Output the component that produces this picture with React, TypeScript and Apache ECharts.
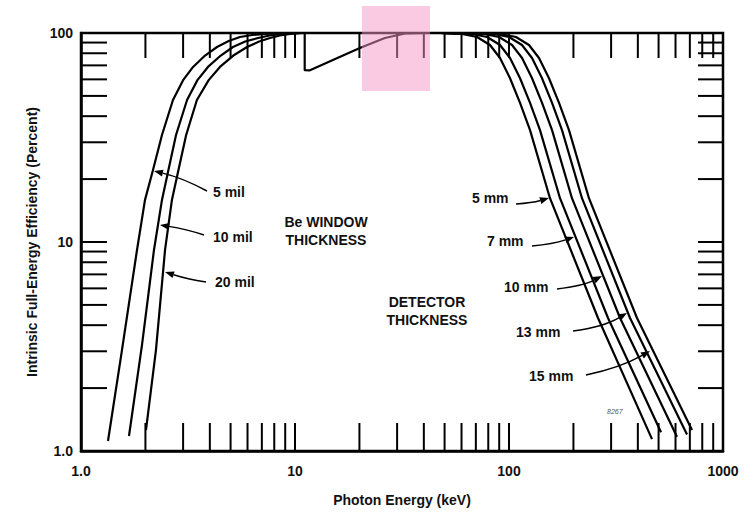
import React, { useEffect, useRef } from 'react';
import * as echarts from 'echarts';

// ---- Data ----
const xTickValues = [2, 3, 4, 5, 6, 7, 8, 9, 10, 20, 30, 40, 50, 60, 70, 80, 90, 100, 200, 300, 400, 500, 600, 700, 800, 900];
const yTickValues = [2, 3, 4, 5, 6, 7, 8, 9, 10, 20, 30, 40, 50, 60, 70, 80, 90];

// Be window thickness curves (low-energy side)
const be5mil = [[1.337, 1.116], [1.554, 3.04], [1.827, 9.16], [1.991, 15.9], [2.17, 22.1], [2.39, 32.5], [2.69, 47.8], [3.0, 59.5], [3.34, 68.8], [3.8, 78.0], [4.32, 85.7], [4.9, 91.5], [5.53, 95.7], [6.3, 97.8], [7.24, 98.9], [9.48, 100], [11.1, 100]];
const be10mil = [[1.676, 1.18], [1.928, 3.22], [2.193, 9.16], [2.39, 15.9], [2.55, 21.6], [2.78, 32.5], [3.13, 47.8], [3.5, 59.5], [3.92, 68.8], [4.5, 78.0], [5.13, 85.7], [5.85, 91.0], [6.72, 94.6], [7.6, 97.3], [8.51, 98.9], [10.55, 100], [11.1, 100]];
const be20mil = [[2.012, 1.26], [2.24, 3.04], [2.47, 9.16], [2.66, 15.9], [2.84, 21.6], [3.1, 32.5], [3.48, 47.8], [3.95, 59.5], [4.46, 68.8], [5.15, 78.0], [5.97, 85.7], [6.8, 91.0], [7.64, 94.6], [8.5, 97.3], [9.48, 98.9], [10.9, 100], [11.1, 100]];

// Ge K-edge dip and recovery (shared by all curves)
const kEdge = [[11.1, 100], [11.1, 66.5], [11.75, 66.3], [15.4, 75.1], [20.1, 84.8], [26.3, 94.6], [32.7, 99.5], [42.7, 100], [50, 100]];

// Detector thickness curves (high-energy side)
const det5mm = [[47.6, 100], [60.3, 98.9], [70.9, 95.7], [81.5, 87.6], [90.8, 75.9], [101, 60.9], [112.6, 46.3], [125.4, 34.3], [155.4, 16.2], [260.6, 4.33], [465.9, 1.14]];
const det7mm = [[47.6, 100], [67.1, 98.9], [79.0, 95.7], [90.8, 87.6], [101.1, 75.9], [112.5, 60.9], [125.4, 46.3], [139.6, 34.3], [173.1, 16.2], [290.2, 4.33], [513.3, 1.23]];
const det10mm = [[47.6, 100], [76.4, 98.9], [89.9, 95.7], [103.3, 87.6], [115.1, 75.9], [128.0, 60.9], [142.7, 46.3], [158.9, 34.3], [196.9, 16.2], [330.3, 4.33], [609.5, 1.17]];
const det13mm = [[47.6, 100], [85.1, 98.9], [100.0, 95.7], [115.0, 87.6], [128.1, 75.9], [142.5, 60.9], [158.9, 46.3], [176.9, 34.3], [219.3, 16.2], [367.7, 4.33], [678.9, 1.2]];
const det15mm = [[47.6, 100], [91.7, 98.9], [107.8, 95.7], [124.0, 87.6], [138.1, 75.9], [153.6, 60.9], [171.3, 46.3], [190.7, 34.3], [236.4, 16.2], [396.4, 4.33], [716.4, 1.26]];

const FONT = '"Liberation Sans", Arial, Helvetica, sans-serif';

type Pt = [number, number];
function arrow(tail: Pt, ctrl: Pt, tip: Pt): any[] {
  const dx = tip[0] - ctrl[0];
  const dy = tip[1] - ctrl[1];
  const len = Math.hypot(dx, dy) || 1;
  const ux = dx / len;
  const uy = dy / len;
  const L = 9;
  const W = 3.5;
  const bx = tip[0] - ux * L;
  const by = tip[1] - uy * L;
  return [
    {
      type: 'bezierCurve',
      shape: { x1: tail[0], y1: tail[1], cpx1: ctrl[0], cpy1: ctrl[1], x2: bx, y2: by },
      style: { stroke: '#000', lineWidth: 1.5, fill: 'none' },
      z: 50,
    },
    {
      type: 'polygon',
      shape: { points: [tip, [bx - uy * W, by + ux * W], [bx + uy * W, by - ux * W]] },
      style: { fill: '#000' },
      z: 50,
    },
  ];
}

function label(text: string, x: number, y: number, align: string = 'left'): any {
  return {
    type: 'text',
    x,
    y,
    z: 50,
    style: { text, font: `bold 14px ${FONT}`, fill: '#111', align, verticalAlign: 'middle' },
  };
}

export default function App() {
  const ref = useRef<HTMLDivElement>(null);
  useEffect(() => {
    if (!ref.current) return;
    const chart = echarts.init(ref.current, undefined, { renderer: 'svg' });

    const curveStyle = { color: '#000', width: 2.2, join: 'round' };
    const curve = (name: string, data: number[][]) => ({
      name,
      type: 'line',
      data,
      showSymbol: false,
      symbol: 'none',
      smooth: false,
      lineStyle: curveStyle,
      z: 5,
      silent: true,
    });

    const option: any = {
      animation: false,
      backgroundColor: '#fff',
      grid: { left: 81, right: 21, top: 33, bottom: 61, show: true, borderColor: '#000', borderWidth: 2.5 },
      xAxis: {
        type: 'log',
        logBase: 10,
        min: 1,
        max: 1000,
        name: 'Photon Energy (keV)',
        nameLocation: 'middle',
        nameGap: 42,
        nameTextStyle: { fontFamily: FONT, fontWeight: 'bold', fontSize: 14, color: '#111' },
        axisLine: { show: true, lineStyle: { color: '#000', width: 2.5 } },
        axisTick: { show: false },
        splitLine: { show: false },
        axisLabel: {
          margin: 13,
          fontFamily: FONT,
          fontWeight: 'bold',
          fontSize: 14,
          color: '#111',
          formatter: (v: number) => (Math.round(v) === 1 ? '1.0' : String(Math.round(v))),
        },
      },
      yAxis: {
        type: 'log',
        logBase: 10,
        min: 1,
        max: 100,
        name: 'Intrinsic Full-Energy Efficiency (Percent)',
        nameLocation: 'middle',
        nameGap: 42,
        nameTextStyle: { fontFamily: FONT, fontWeight: 'bold', fontSize: 14, color: '#111' },
        axisLine: { show: true, lineStyle: { color: '#000', width: 2.5 } },
        axisTick: { show: false },
        splitLine: { show: false },
        axisLabel: {
          margin: 8,
          fontFamily: FONT,
          fontWeight: 'bold',
          fontSize: 14,
          color: '#111',
          formatter: (v: number) => (Math.round(v) === 1 ? '1.0' : String(Math.round(v))),
        },
      },
      series: [
        curve('5 mil', be5mil),
        curve('10 mil', be10mil),
        curve('20 mil', be20mil),
        curve('K edge', kEdge),
        curve('5 mm', det5mm),
        curve('7 mm', det7mm),
        curve('10 mm', det10mm),
        curve('13 mm', det13mm),
        curve('15 mm', det15mm),
        {
          type: 'custom',
          name: 'xTicks',
          silent: true,
          z: 4,
          data: xTickValues.map((v) => [v, 1]),
          encode: { x: 0, y: 1 },
          renderItem: (_p: any, api: any) => {
            const v = api.value(0);
            const b = api.coord([v, 1]);
            const t = api.coord([v, 100]);
            return {
              type: 'group',
              children: [
                { type: 'line', shape: { x1: b[0], y1: b[1], x2: b[0], y2: b[1] - 28 }, style: { stroke: '#000', lineWidth: 2 } },
                { type: 'line', shape: { x1: t[0], y1: t[1], x2: t[0], y2: t[1] + 25 }, style: { stroke: '#000', lineWidth: 2 } },
              ],
            };
          },
        },
        {
          type: 'custom',
          name: 'yTicks',
          silent: true,
          z: 4,
          data: yTickValues.map((v) => [1, v]),
          encode: { x: 0, y: 1 },
          renderItem: (_p: any, api: any) => {
            const v = api.value(1);
            const l = api.coord([1, v]);
            const r = api.coord([1000, v]);
            return {
              type: 'group',
              children: [
                { type: 'line', shape: { x1: l[0], y1: l[1], x2: l[0] + 26, y2: l[1] }, style: { stroke: '#000', lineWidth: 2 } },
                { type: 'line', shape: { x1: r[0], y1: r[1], x2: r[0] - 25, y2: r[1] }, style: { stroke: '#000', lineWidth: 2 } },
              ],
            };
          },
        },
      ],
      graphic: [
        label('5 mil', 213, 192),
        label('10 mil', 213, 237),
        label('20 mil', 215, 282),
        label('Be WINDOW', 326, 222, 'center'),
        label('THICKNESS', 326, 240, 'center'),
        label('DETECTOR', 427, 302, 'center'),
        label('THICKNESS', 427, 320, 'center'),
        label('5 mm', 472, 198),
        label('7 mm', 487, 241),
        label('10 mm', 504, 287),
        label('13 mm', 516, 332),
        label('15 mm', 529, 376),
        {
          type: 'text',
          x: 607,
          y: 411,
          z: 50,
          style: { text: '8267', font: `italic 7px ${FONT}`, fill: '#555', align: 'left', verticalAlign: 'middle' },
        },
        ...arrow([207, 191], [183, 178], [154, 171]),
        ...arrow([204, 235], [186, 229], [160, 225]),
        ...arrow([206, 282], [187, 279], [165, 272]),
        ...arrow([516, 204], [532, 203], [549, 198]),
        ...arrow([532, 246], [553, 244], [574, 237]),
        ...arrow([557, 289], [583, 286], [602, 276]),
        ...arrow([573, 331], [603, 327], [627, 313]),
        ...arrow([586, 375], [620, 368], [650, 351]),
        {
          type: 'rect',
          shape: { x: 362, y: 6, width: 68, height: 85 },
          style: { fill: 'rgba(245,150,200,0.5)' },
          z: 100,
        },
      ],
    };
    chart.setOption(option);
    return () => chart.dispose();
  }, []);
  return <div ref={ref} style={{ position: 'absolute', left: 0, top: 0, width: 744, height: 512 }} />;
}
